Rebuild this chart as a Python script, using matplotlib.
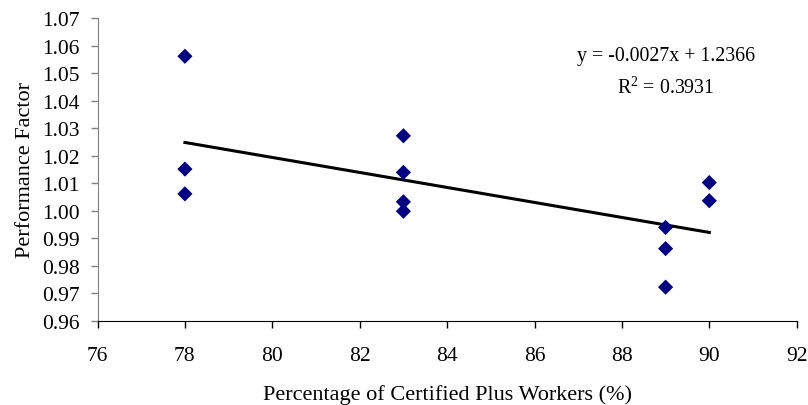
import matplotlib
matplotlib.use("Agg")
import matplotlib.pyplot as plt
import numpy as np

# Data
certified_pct = [78, 78, 78, 83, 83, 83, 83, 89, 89, 89, 90, 90]
perf_factor = [1.0561, 1.0151, 1.0061, 1.0272, 1.0139, 1.0032, 0.9998,
               0.9939, 0.9862, 0.9722, 1.0102, 1.0036]
x_ticks = [76, 78, 80, 82, 84, 86, 88, 90, 92]
y_ticks = [0.96, 0.97, 0.98, 0.99, 1.00, 1.01, 1.02, 1.03, 1.04, 1.05, 1.06, 1.07]
eq_text = "y = -0.0027x + 1.2366"
r2_text = "R$^2$ = 0.3931"

plt.rcParams['font.family'] = ['Liberation Serif', 'DejaVu Serif']
plt.rcParams['mathtext.fontset'] = 'custom'
plt.rcParams['mathtext.rm'] = 'Liberation Serif'

fig = plt.figure(figsize=(8.08, 4.06), dpi=100)
ax = fig.add_axes([0.1207, 0.2076, 0.8653, 0.7456])

ax.scatter(certified_pct, perf_factor, marker='D', s=60, color='#000080',
           edgecolors='none', zorder=3)

# linear trend line
xs = np.array(certified_pct, dtype=float)
slope, intercept = np.polyfit(xs, perf_factor, 1)
line_x = np.array([xs.min(), xs.max()])
ax.plot(line_x, slope * line_x + intercept, color='black', linewidth=2.2, zorder=2)

# trend equation label
ax.text(89.0, 1.0565, eq_text, fontsize=14.3, ha='center', va='center')
ax.text(89.0, 1.0449, r2_text, fontsize=14.3, ha='center', va='center')

ax.set_xlim(76, 92)
ax.set_ylim(0.96, 1.07)
ax.set_xticks(x_ticks)
ax.set_yticks(y_ticks)
ax.set_xticklabels([str(t) for t in x_ticks])
ax.set_yticklabels([f"{t:.2f}" for t in y_ticks])
ax.tick_params(labelsize=15.5, direction='out', length=5, width=1)
ax.tick_params(axis='y', colors='#808080', labelcolor='black', pad=8)
ax.tick_params(axis='x', colors='black', labelcolor='black', pad=13)

ax.spines['top'].set_visible(False)
ax.spines['right'].set_visible(False)
ax.spines['left'].set_color('#808080')
ax.spines['bottom'].set_color('black')

ax.set_xlabel("Percentage of Certified Plus Workers (%)", fontsize=16, labelpad=14)
ax.set_ylabel("Performance Factor", fontsize=16, labelpad=5)

fig.savefig("out.png", dpi=100)
